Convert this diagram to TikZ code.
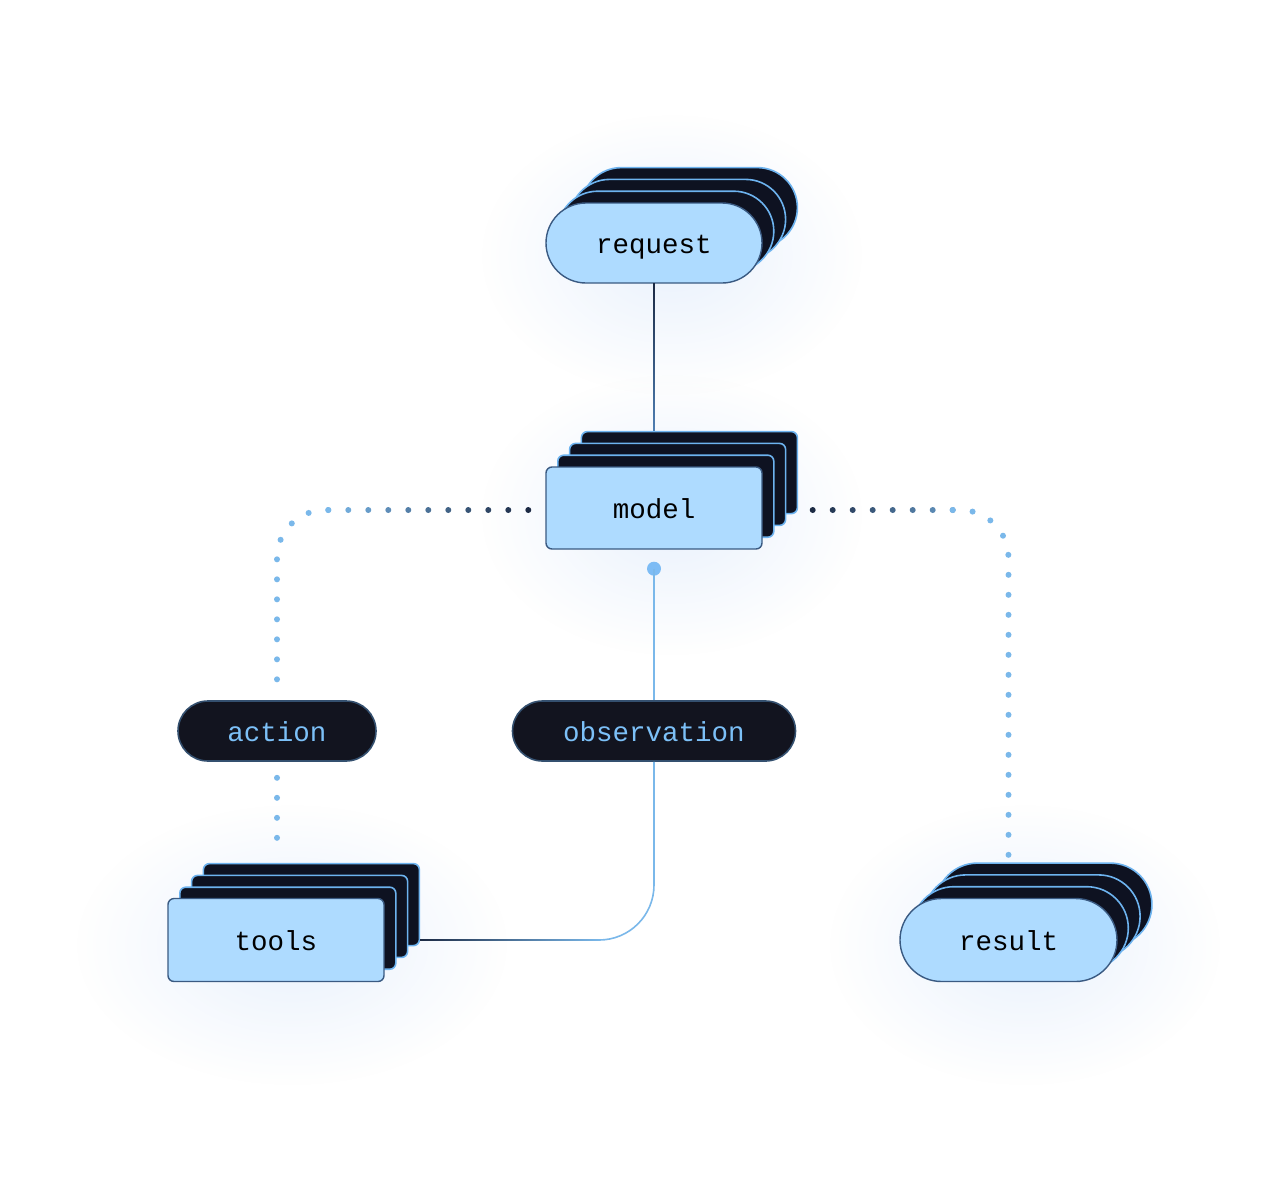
\documentclass[tikz,border=0pt]{standalone}
\usepackage{fontspec}
\setmonofont{Liberation Mono}
\usetikzlibrary{calc,fadings}
\definecolor{frontfill}{HTML}{AEDBFF}
\definecolor{frontdraw}{HTML}{3A5A82}
\definecolor{backfill}{HTML}{0E1221}
\definecolor{backdraw}{HTML}{6DB3EF}
\definecolor{labfill}{HTML}{12141F}
\definecolor{labdraw}{HTML}{34506F}
\definecolor{labtext}{HTML}{7CC0F7}
\definecolor{linedark}{HTML}{1C2A44}
\definecolor{linemid}{HTML}{4F7FB3}
\definecolor{linelight}{HTML}{7AB8EA}
\definecolor{dotc}{HTML}{7DBCF5}
\definecolor{glowc}{HTML}{E4EEFC}
\tikzfading[name=glowfade, inner color=transparent!20, outer color=transparent!100]
\begin{document}
\begin{tikzpicture}[x=1pt,y=-1pt,
  txt/.style={font=\ttfamily\fontsize{27.5}{33}\selectfont, text height=22pt, text depth=2pt},
  pillfront/.style={draw=frontdraw, fill=frontfill, line width=1.4pt, rounded corners=40pt, minimum width=216pt, minimum height=80pt, inner sep=0pt, txt, text=black},
  pillback/.style={draw=backdraw, fill=backfill, line width=1.6pt, rounded corners=40pt, minimum width=216pt, minimum height=80pt, inner sep=0pt},
  rectfront/.style={draw=frontdraw, fill=frontfill, line width=1.4pt, rounded corners=6pt, minimum width=216pt, minimum height=82pt, inner sep=0pt, txt, text=black},
  rectback/.style={draw=backdraw, fill=backfill, line width=1.6pt, rounded corners=6pt, minimum width=216pt, minimum height=82pt, inner sep=0pt},
  labelpill/.style={draw=labdraw, fill=labfill, line width=1.6pt, rounded corners=30pt, minimum height=60pt, inner sep=0pt, txt, text=labtext},
  dotpath/.style={color=linelight, line width=6pt, line cap=round, dash pattern=on 0pt off 20pt},
  conn/.style={line width=1.6pt}
]
\fill[white] (0,0) rectangle (1288,1192);
\useasboundingbox (0,0) rectangle (1288,1192);
% glows
\fill[glowc, path fading=glowfade] (672,255) ellipse (190pt and 140pt);
\fill[glowc, path fading=glowfade] (672,515) ellipse (190pt and 140pt);
\fill[glowc, path fading=glowfade] (292,945) ellipse (215pt and 140pt);
\fill[glowc, path fading=glowfade] (1025,945) ellipse (195pt and 140pt);

% request
\foreach \k in {3,2,1}{
  \node[pillback] (request-b\k) at ($(654,243)+(11.8*\k,-11.8*\k)$) {};
}
\node[pillfront] (request) at (654,243) {request};

% model
\foreach \k in {3,2,1}{
  \node[rectback] (model-b\k) at ($(654,508)+(11.8*\k,-11.8*\k)$) {};
}
\node[rectfront] (model) at (654,508) {model};

% tools
\foreach \k in {3,2,1}{
  \node[rectback] (tools-b\k) at ($(276,940)+(11.8*\k,-11.8*\k)$) {};
}
\node[rectfront, minimum height=83pt] (tools) at (276,940) {tools};

% result
\foreach \k in {3,2,1}{
  \node[pillback, minimum height=83pt, rounded corners=41.5pt] (result-b\k) at ($(1008.5,940)+(11.8*\k,-11.8*\k)$) {};
}
\node[pillfront, minimum height=83pt, rounded corners=41.5pt, minimum width=217pt] (result) at (1008.5,940) {result};

% labels
\node[labelpill, minimum width=198pt] (action) at (277,731) {action};
\node[labelpill, minimum width=283pt] (observation) at (654,731) {observation};

% request -> model
\coordinate (rmEnd) at (request.south |- model-b3.north);
\shade[top color=linedark, bottom color=linemid] ($(request.south)+(-0.8,0)$) rectangle ($(rmEnd)+(0.8,0)$);

% model -> observation -> tools
\node[circle, fill=dotc, minimum size=14pt, inner sep=0pt] (obsdot) at ($(model.south)+(0,19)$) {};
\draw[conn, linelight] (obsdot.center) -- (observation.north);
\coordinate (toolsIn) at (tools-b3.east |- tools.center);
\coordinate (bendEnd) at ($(toolsIn)+(180,0)$);
\draw[conn, linelight, rounded corners=55pt] (observation.south) |- (bendEnd);
\shade[left color=linedark, right color=linelight] ($(toolsIn)+(0,-0.8)$) rectangle ($(bendEnd)+(0.5,0.8)$);

% dotted: model -> action
\foreach \i in {0,...,10}{
  \pgfmathtruncatemacro\pc{100-10*\i}
  \fill[color=linedark!\pc!linelight] ($(model.west)+(-17-20*\i,2)$) circle (3pt);
}
\draw[dotpath, rounded corners=48pt] ($(model.west)+(-217,2)$) -| ($(action.north)+(0,-4)$);
% dotted: action -> tools
\draw[dotpath] ($(action.south)+(0,16)$) -- ($(action.south |- tools-b3.north)+(0,-5)$);

% dotted: model -> result
\foreach \i in {0,...,7}{
  \pgfmathtruncatemacro\pc{100-11*\i}
  \fill[color=linedark!\pc!linelight] ($(model.east)+(50+20*\i,2)$) circle (3pt);
}
\draw[dotpath, rounded corners=48pt] ($(model.east)+(190,2)$) -| ($(result.north |- result-b3.north)+(0,-5)$);
\end{tikzpicture}
\end{document}
